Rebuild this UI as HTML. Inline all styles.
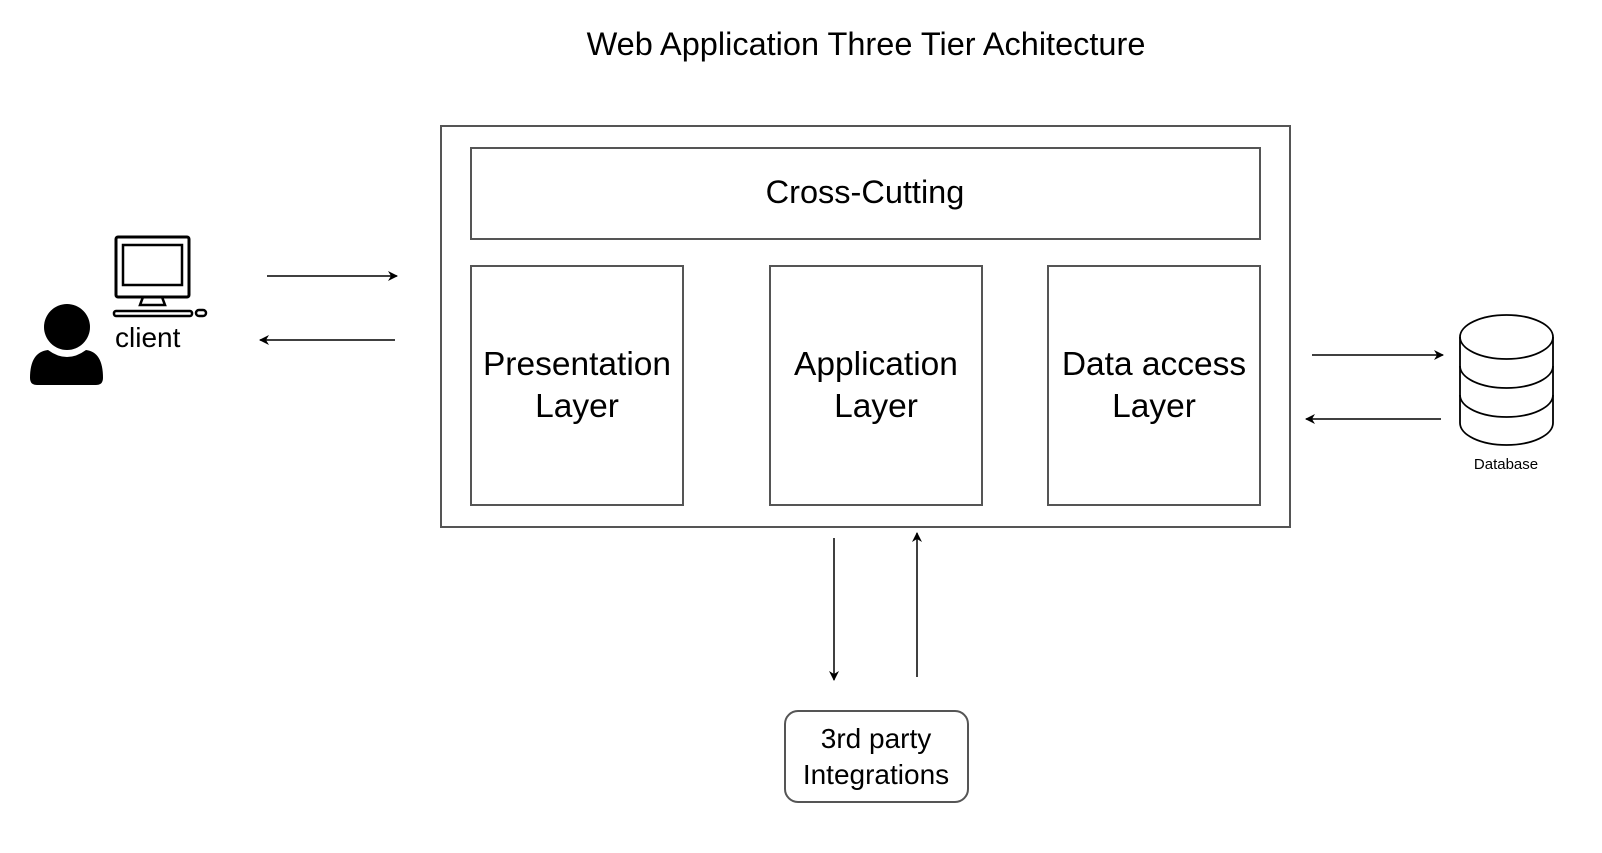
<!DOCTYPE html>
<html><head><style>
body{margin:0;background:#fff;}
svg text{font-family:"Liberation Sans",Arial,sans-serif;fill:#000;}
</style></head><body>
<svg width="1602" height="848" viewBox="0 0 1602 848" xmlns="http://www.w3.org/2000/svg">
<defs><marker id="a" markerWidth="10" markerHeight="10" refX="9" refY="5" orient="auto" markerUnits="userSpaceOnUse"><path d="M0,0 L10,5 L0,10 L3,5 Z" fill="#000"/></marker></defs>
<text x="866" y="55" font-size="32.5" text-anchor="middle">Web Application Three Tier Achitecture</text>
<rect x="441" y="126" width="849" height="401" fill="none" stroke="#555" stroke-width="2"/>
<rect x="471" y="148" width="789" height="91" fill="none" stroke="#555" stroke-width="2"/>
<text x="865" y="203" font-size="32.5" text-anchor="middle">Cross-Cutting</text>
<rect x="471" y="266" width="212" height="239" fill="none" stroke="#555" stroke-width="2"/>
<rect x="770" y="266" width="212" height="239" fill="none" stroke="#555" stroke-width="2"/>
<rect x="1048" y="266" width="212" height="239" fill="none" stroke="#555" stroke-width="2"/>
<g font-size="33.5" text-anchor="middle">
<text x="577" y="375">Presentation</text><text x="577" y="417">Layer</text>
<text x="876" y="375">Application</text><text x="876" y="417">Layer</text>
<text x="1154" y="375">Data access</text><text x="1154" y="417">Layer</text>
</g>
<g stroke="#000" stroke-width="1.5" marker-end="url(#a)">
<line x1="267" y1="276" x2="397" y2="276"/>
<line x1="395" y1="340" x2="260" y2="340"/>
<line x1="1312" y1="355" x2="1443" y2="355"/>
<line x1="1441" y1="419" x2="1306" y2="419"/>
<line x1="834" y1="538" x2="834" y2="680"/>
<line x1="917" y1="677" x2="917" y2="533"/>
</g>
<rect x="785" y="711" width="183" height="91" rx="13" fill="none" stroke="#555" stroke-width="2"/>
<g font-size="28" text-anchor="middle"><text x="876" y="748">3rd party</text><text x="876" y="784">Integrations</text></g>
<!-- client -->
<circle cx="67" cy="327" r="23" fill="#000"/>
<path d="M30,378 Q30,352 48,350 Q67,364 86,350 Q103,352 103,378 Q103,385 96,385 L37,385 Q30,385 30,378 Z" fill="#000"/>
<rect x="116" y="237" width="73" height="60" rx="2" fill="none" stroke="#000" stroke-width="3"/>
<rect x="123" y="245" width="59" height="40" fill="none" stroke="#000" stroke-width="2.5"/>
<path d="M143,297 L140,305 L165,305 L162,297 Z" fill="none" stroke="#000" stroke-width="2.5"/>
<rect x="114" y="311" width="78" height="5" rx="2" fill="none" stroke="#000" stroke-width="2.5"/>
<rect x="196" y="310" width="10" height="6" rx="3" fill="none" stroke="#000" stroke-width="2.5"/>
<text x="115" y="347" font-size="28">client</text>
<!-- database -->
<g fill="none" stroke="#000" stroke-width="1.8">
<path d="M1460,337 L1460,423 A46.5,22 0 0 0 1553,423 L1553,337"/>
<ellipse cx="1506.5" cy="337" rx="46.5" ry="22"/>
<path d="M1460,366 A46.5,22 0 0 0 1553,366"/>
<path d="M1460,395 A46.5,22 0 0 0 1553,395"/>
</g>
<text x="1506" y="469" font-size="15" text-anchor="middle">Database</text>
</svg>
</body></html>
